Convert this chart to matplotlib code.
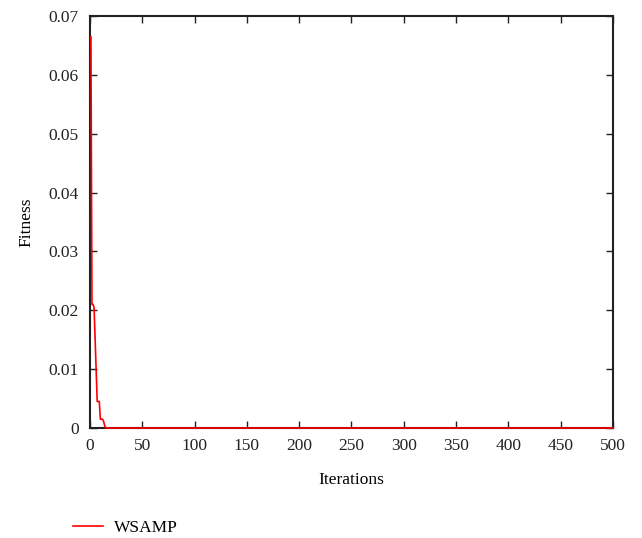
import numpy as np
import matplotlib
matplotlib.use("Agg")
import matplotlib.pyplot as plt

plt.rcParams['font.family'] = ['Liberation Serif', 'DejaVu Serif']

# Early iterations; the curve stays at 0 afterwards
early_iters = [1, 2, 3, 4, 5, 6, 7, 8, 9, 10, 11, 12, 13, 14, 15]
early_fitness = [0.0665, 0.021, 0.021, 0.0205, 0.015, 0.009, 0.0045, 0.0045,
                 0.0045, 0.0015, 0.0015, 0.0015, 0.0012, 0.0005, 0.0]
final_fitness = 0.0
n_iter = 500

iters = list(range(1, n_iter + 1))
fitness = early_fitness + [final_fitness] * (n_iter - len(early_fitness))

xticks = [0, 50, 100, 150, 200, 250, 300, 350, 400, 450, 500]
yticks = [0, 0.01, 0.02, 0.03, 0.04, 0.05, 0.06, 0.07]
ytick_labels = ['0', '0.01', '0.02', '0.03', '0.04', '0.05', '0.06', '0.07']

fig = plt.figure(figsize=(6.42, 5.38), dpi=100)
ax = fig.add_axes([0.140, 0.2045, 0.815, 0.7655])
line, = ax.plot(iters, fitness, color='#ff0000', lw=1.2, label='WSAMP',
                zorder=5, clip_on=False)

ax.set_xlim(0, 500)
ax.set_ylim(0, 0.07)
ax.set_xticks(xticks)
ax.set_yticks(yticks)
ax.set_yticklabels(ytick_labels)
ax.tick_params(direction='in', top=True, right=True, labelsize=12.5, length=5,
               width=1.0, colors='#222222')
ax.tick_params(axis='y', pad=8)
ax.tick_params(axis='x', pad=7)
for s in ax.spines.values():
    s.set_linewidth(1.5)
    s.set_color('#222222')
ax.set_xlabel('Iterations', fontsize=12.5, labelpad=13)
ax.set_ylabel('Fitness', fontsize=12.5, labelpad=10)

fig.legend(handles=[line], loc='center left', bbox_to_anchor=(0.089, 0.018),
           frameon=False, fontsize=12.5, handlelength=1.75, handletextpad=0.6)

fig.savefig('out.png', dpi=100)
